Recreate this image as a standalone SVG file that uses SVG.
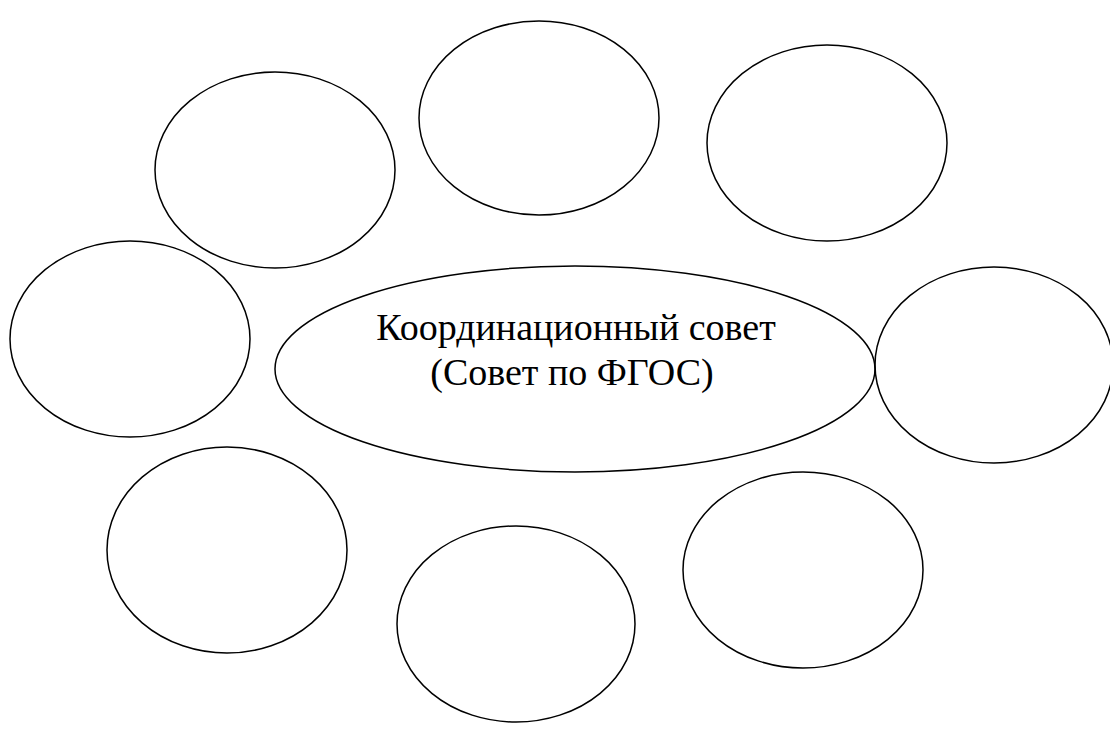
<svg xmlns="http://www.w3.org/2000/svg" width="1110" height="729" viewBox="0 0 1110 729">
<style>
.n{fill:none;stroke:#000;stroke-width:1.5}
.t{font-family:"Liberation Serif","Times New Roman",serif;font-size:38px;fill:#000;text-anchor:middle}
</style>
<rect width="1110" height="729" fill="#fff"/>
<g id="connectors"></g>
<g id="n-center"><ellipse class="n" cx="575" cy="369" rx="300" ry="103"/>
<text class="t" x="576" y="340">Координационный совет</text>
<text class="t" x="572" y="385">(Совет по ФГОС)</text></g>
<g id="n-tl"><ellipse class="n" cx="275" cy="170" rx="120" ry="98"/></g>
<g id="n-tc"><ellipse class="n" cx="539" cy="118" rx="120" ry="97"/></g>
<g id="n-tr"><ellipse class="n" cx="827" cy="143" rx="120" ry="98"/></g>
<g id="n-l"><ellipse class="n" cx="130" cy="339" rx="120" ry="98"/></g>
<g id="n-r"><ellipse class="n" cx="994" cy="365" rx="119" ry="98"/></g>
<g id="n-bl"><ellipse class="n" cx="227" cy="550" rx="120" ry="103"/></g>
<g id="n-bc"><ellipse class="n" cx="516" cy="624" rx="119" ry="98"/></g>
<g id="n-br"><ellipse class="n" cx="803" cy="570" rx="120" ry="98"/></g>
</svg>
